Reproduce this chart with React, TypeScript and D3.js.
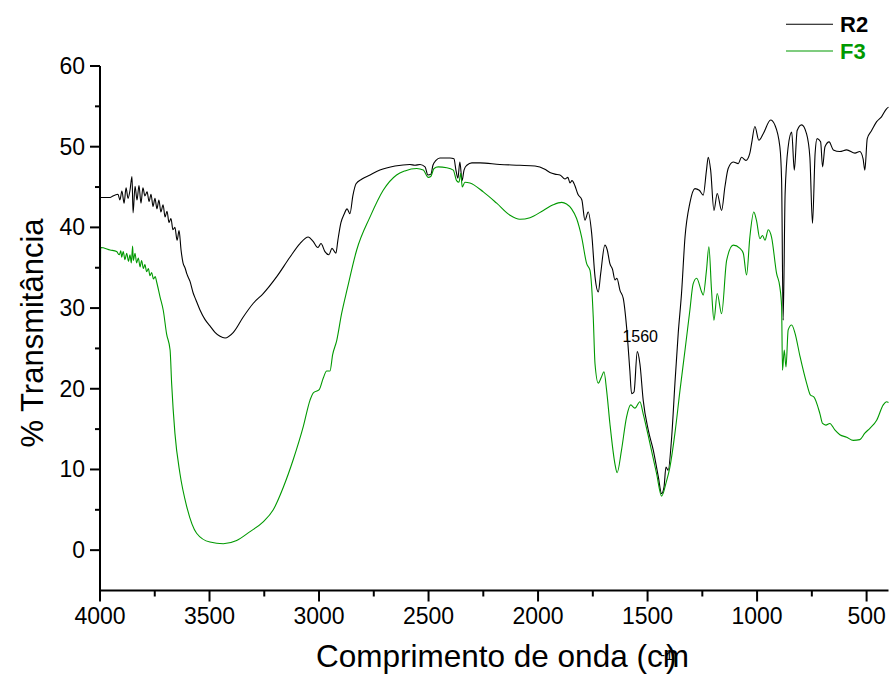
import React from "react";
import * as d3 from "d3";

// FTIR spectra: [wavenumber (cm-1), % transmittance]
const r2Spectrum: [number, number][] = [
  [4000,43.7],[3954,43.7],[3941,43.9],[3918,44.1],[3909,43.4],[3900,44.5],[3890,43.0],[3881,44.9],[3872,43.6],[3863,44.6],
  [3854,46.3],[3849,41.8],[3840,45.1],[3831,43.4],[3822,45.2],[3813,43.0],[3804,44.9],[3795,43.9],[3785,44.4],[3776,43.2],
  [3767,44.1],[3758,42.6],[3749,43.6],[3740,42.3],[3731,43.4],[3722,41.9],[3712,42.8],[3703,41.3],[3694,42.0],[3685,40.6],
  [3676,41.1],[3667,39.7],[3658,40.0],[3648,38.4],[3639,39.6],[3630,37.2],[3621,35.6],[3612,35.0],[3603,34.2],[3589,33.3],
  [3575,31.9],[3562,31.0],[3544,29.8],[3521,28.6],[3498,27.8],[3475,27.0],[3452,26.5],[3429,26.3],[3391,27.0],[3346,28.9],
  [3300,30.6],[3255,31.8],[3193,33.9],[3133,36.3],[3087,38.0],[3049,38.8],[3028,38.3],[3005,37.5],[2991,38.0],[2973,37.0],
  [2955,36.6],[2941,37.4],[2923,36.8],[2914,38.4],[2900,40.6],[2886,41.6],[2872,42.3],[2859,41.7],[2845,44.0],[2831,45.4],
  [2804,46.0],[2767,46.5],[2722,47.1],[2653,47.6],[2585,47.8],[2562,47.7],[2539,47.8],[2516,47.5],[2503,46.5],[2489,46.6],
  [2480,47.7],[2466,48.3],[2448,48.6],[2402,48.6],[2384,48.5],[2375,47.1],[2366,46.1],[2357,48.1],[2347,45.8],[2338,47.1],
  [2325,47.7],[2302,48.0],[2265,48.0],[2174,47.8],[2083,47.7],[2014,47.6],[1969,47.2],[1946,46.8],[1923,46.6],[1900,46.5],
  [1877,46.0],[1864,46.2],[1854,45.5],[1845,45.8],[1832,45.2],[1818,44.1],[1800,43.4],[1786,40.9],[1771,41.9],[1755,39.2],
  [1740,33.9],[1725,32.0],[1714,34.3],[1695,37.8],[1684,37.2],[1672,35.5],[1660,34.8],[1649,33.5],[1640,33.7],[1626,32.2],
  [1611,31.2],[1596,27.7],[1581,22.3],[1573,19.4],[1562,19.6],[1547,24.6],[1535,23.1],[1520,18.6],[1497,14.9],[1474,12.4],
  [1451,9.1],[1436,7.0],[1425,7.8],[1416,10.3],[1406,9.9],[1390,14.0],[1375,20.7],[1360,26.9],[1345,31.8],[1329,38.8],
  [1307,43.0],[1284,44.8],[1264,44.6],[1246,44.0],[1231,47.1],[1223,48.7],[1212,47.1],[1197,42.1],[1182,44.2],[1162,42.1],
  [1147,45.0],[1132,47.3],[1109,48.1],[1086,47.9],[1071,48.7],[1051,48.3],[1033,49.2],[1025,50.4],[1010,52.5],[992,50.8],
  [972,51.6],[938,53.3],[919,52.7],[896,50.0],[888,45.8],[881,28.5],[872,44.2],[858,50.0],[842,51.8],[830,47.1],
  [817,52.0],[797,52.7],[774,51.6],[759,48.7],[747,40.5],[735,49.2],[726,51.0],[710,50.6],[701,47.5],[690,50.0],
  [671,50.6],[652,49.6],[622,49.4],[591,49.6],[553,49.2],[531,49.4],[516,48.5],[508,47.1],[497,51.0],[477,52.0],
  [454,53.1],[432,53.7],[409,54.7],[400,54.9],
];

const f3Spectrum: [number, number][] = [
  [4000,0.2],[3997,37.5],[3954,37.2],[3924,37.0],[3912,36.6],[3905,37.1],[3901,36.3],[3894,37.0],[3886,36.0],[3878,36.8],
  [3870,35.8],[3863,36.6],[3857,35.6],[3851,37.7],[3848,35.9],[3840,36.8],[3833,35.6],[3825,36.2],[3817,35.1],[3810,35.9],
  [3802,34.9],[3795,35.4],[3787,34.5],[3779,34.9],[3772,34.0],[3764,34.4],[3756,33.6],[3748,33.9],[3741,33.2],[3726,31.4],
  [3711,29.7],[3696,26.8],[3680,24.8],[3673,20.7],[3658,14.5],[3635,9.5],[3604,5.4],[3559,2.1],[3498,1.0],[3437,0.8],
  [3376,1.2],[3315,2.3],[3255,3.5],[3209,5.0],[3163,7.8],[3118,11.2],[3072,15.3],[3041,18.6],[3026,19.5],[2999,19.9],
  [2981,21.3],[2965,22.2],[2950,22.2],[2938,24.2],[2919,26.0],[2897,29.3],[2871,32.4],[2828,37.2],[2767,41.3],[2707,44.6],
  [2646,46.5],[2608,47.0],[2554,47.3],[2524,47.1],[2501,46.2],[2490,46.3],[2475,47.3],[2456,47.5],[2417,47.4],[2387,47.1],
  [2372,45.8],[2361,45.6],[2353,46.7],[2346,45.0],[2334,45.6],[2311,45.5],[2250,44.4],[2189,43.0],[2128,41.5],[2083,41.0],
  [2037,41.2],[1976,42.1],[1931,42.8],[1892,43.1],[1870,42.9],[1847,42.3],[1824,41.1],[1801,38.8],[1778,35.5],[1763,34.7],
  [1748,28.9],[1740,23.1],[1725,20.7],[1710,21.5],[1699,22.1],[1687,19.8],[1672,15.7],[1649,10.7],[1639,9.6],[1619,12.4],
  [1596,16.5],[1577,18.0],[1558,17.6],[1535,18.4],[1520,16.9],[1489,13.2],[1459,9.5],[1436,6.7],[1416,8.3],[1398,10.3],
  [1375,14.5],[1352,19.8],[1329,24.8],[1307,29.7],[1292,33.0],[1276,33.7],[1253,32.0],[1246,31.6],[1231,34.7],[1220,37.6],
  [1208,32.2],[1197,28.5],[1182,31.8],[1162,29.3],[1139,35.9],[1109,37.8],[1078,37.4],[1063,36.8],[1048,34.1],[1033,38.8],
  [1015,41.9],[1003,40.9],[987,38.6],[975,39.0],[964,38.4],[949,39.7],[934,38.8],[911,34.3],[896,32.6],[888,30.2],
  [884,22.3],[876,24.8],[868,22.7],[858,27.3],[842,27.9],[827,26.9],[804,24.0],[774,20.7],[756,19.2],[741,19.0],
  [713,16.9],[701,15.7],[686,15.5],[668,15.7],[645,14.9],[622,14.3],[591,14.0],[561,13.6],[531,13.7],[508,14.5],
  [485,15.1],[454,16.1],[424,18.0],[409,18.4],[400,18.3],
];

const xMajorTicks = [4000, 3500, 3000, 2500, 2000, 1500, 1000, 500];
const xMinorTicks = [3750, 3250, 2750, 2250, 1750, 1250, 750];
const yMajorTicks = [0, 10, 20, 30, 40, 50, 60];
const yMinorTicks = [5, 15, 25, 35, 45, 55];

const seriesNames = ["R2", "F3"];
const seriesColors = ["#000000", "#009900"];
const peakLabel = { wavenumber: 1560, text: "1560" };

const FONT = "Arial, 'Liberation Sans', sans-serif";

export default function App() {
  const width = 891;
  const height = 681;
  const left = 100;
  const right = 888.5;
  const top = 66;
  const bottom = 590.5;

  const x = d3.scaleLinear().domain([4000, 400]).range([left, right]);
  const y = d3.scaleLinear().domain([-5, 60]).range([bottom, top]);

  const line = d3
    .line<[number, number]>()
    .x((d) => x(d[0]))
    .y((d) => y(d[1]))
    .curve(d3.curveMonotoneX);

  const spectra = [r2Spectrum, f3Spectrum];

  return (
    <svg
      width={width}
      height={height}
      style={{ position: "absolute", left: 0, top: 0, background: "#fff" }}
      fontFamily={FONT}
    >
      <rect width={width} height={height} fill="#fff" />

      {/* spectra */}
      {spectra.map((s, i) => (
        <path
          key={seriesNames[i]}
          d={line(s) ?? ""}
          fill="none"
          stroke={seriesColors[i]}
          strokeWidth={1.1}
          strokeLinejoin="round"
        />
      ))}

      {/* peak annotation */}
      <text x={x(peakLabel.wavenumber) - 12} y={341.5} fontSize={16} fill="#000">
        {peakLabel.text}
      </text>

      {/* axes */}
      <line x1={left} x2={left} y1={top} y2={bottom + 1} stroke="#000" strokeWidth={2} />
      <line x1={left - 1} x2={right} y1={bottom} y2={bottom} stroke="#000" strokeWidth={2} />

      {yMajorTicks.map((t) => (
        <g key={"ym" + t}>
          <line x1={left - 10} x2={left} y1={y(t)} y2={y(t)} stroke="#000" strokeWidth={2} />
          <text x={left - 15} y={y(t) + 8} fontSize={23} textAnchor="end" fill="#000">
            {t}
          </text>
        </g>
      ))}
      {yMinorTicks.map((t) => (
        <line key={"yn" + t} x1={left - 5} x2={left} y1={y(t)} y2={y(t)} stroke="#000" strokeWidth={2} />
      ))}

      {xMajorTicks.map((t) => (
        <g key={"xm" + t}>
          <line x1={x(t)} x2={x(t)} y1={bottom} y2={bottom + 11} stroke="#000" strokeWidth={2} />
          <text x={x(t)} y={624} fontSize={23} textAnchor="middle" fill="#000">
            {t}
          </text>
        </g>
      ))}
      {xMinorTicks.map((t) => (
        <line key={"xn" + t} x1={x(t)} x2={x(t)} y1={bottom} y2={bottom + 6} stroke="#000" strokeWidth={2} />
      ))}

      {/* axis titles */}
      <text x={316} y={667} fontSize={31.5} fill="#000">
        Comprimento de onda (cm
      </text>
      <text x={660} y={660} fontSize={15} fill="#000">
        -1
      </text>
      <text x={666} y={667} fontSize={31.5} fill="#000">
        )
      </text>
      <text
        transform="translate(43,333) rotate(-90)"
        fontSize={31}
        textAnchor="middle"
        fill="#000"
      >
        % Transmitância
      </text>

      {/* legend */}
      {seriesNames.map((name, i) => (
        <g key={"lg" + name}>
          <line
            x1={786}
            x2={833}
            y1={24.3 + i * 26.7}
            y2={24.3 + i * 26.7}
            stroke={seriesColors[i]}
            strokeWidth={1.1}
          />
          <text
            x={840}
            y={32.3 + i * 27}
            fontSize={22}
            fontWeight="bold"
            fill={seriesColors[i]}
          >
            {name}
          </text>
        </g>
      ))}
    </svg>
  );
}
